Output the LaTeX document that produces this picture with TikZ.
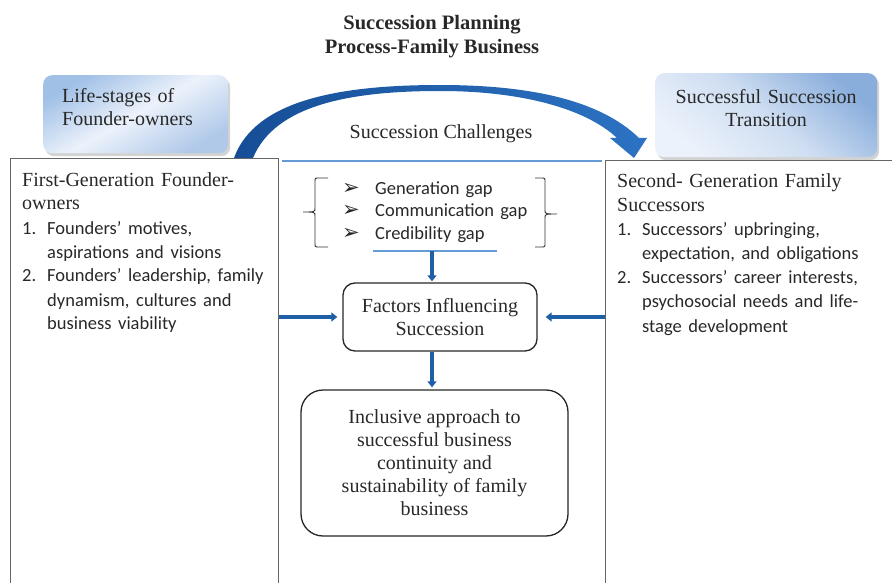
\documentclass[tikz,border=0pt]{standalone}
\usepackage{fontspec}
\setmainfont{Liberation Serif}
\newfontfamily\calibri{Carlito}
\newfontfamily\dings{DejaVu Sans}
\usetikzlibrary{arrows.meta,shadows,positioning}

\definecolor{arcdark}{RGB}{22,78,150}
\definecolor{arclight}{RGB}{45,115,195}
\definecolor{flowblue}{RGB}{30,95,165}
\definecolor{thinblue}{RGB}{100,155,215}
\definecolor{stagetop}{RGB}{160,192,230}
\definecolor{stagemid}{RGB}{236,242,251}
\definecolor{stagebot}{RGB}{176,201,233}
\definecolor{stagedeep}{RGB}{138,174,220}
\definecolor{textgray}{RGB}{40,40,40}

\newcommand{\itemno}[1]{\makebox[25pt][l]{#1}}
\newcommand{\bulletarrow}{\makebox[33pt][l]{\dings\fontsize{21}{22}\selectfont ➢}}

\tikzset{
  stagebox/.style={rounded corners=9pt, top color=stagetop, bottom color=stagebot,
    middle color=stagemid, shading angle=30,
    drop shadow={shadow xshift=2pt, shadow yshift=-3pt, opacity=0.35},
    text=textgray, font=\fontsize{20}{23}\selectfont},
  frame/.style={draw=black!60, line width=1pt, inner sep=0pt},
  listtext/.style={text width=#1, align=left, inner sep=0pt, text=textgray},
  flowbox/.style={draw=black!85, line width=1.3pt, rounded corners=12pt, align=center,
    text=textgray, font=\fontsize{20}{23}\selectfont},
  flow/.style={draw=flowblue, line width=3.3pt, -{Triangle[width=9pt,length=6pt]}},
  thinline/.style={draw=thinblue, line width=1.3pt},
  bracket/.style={draw=black!80, line width=0.9pt},
}

\begin{document}
\begin{tikzpicture}[x=1pt,y=-1pt]
  \useasboundingbox (0,0) rectangle (892,583);
  \clip (0,0) rectangle (892,583);

  \node[align=center, text=textgray, font=\bfseries\fontsize{20.5}{24}\selectfont] (title) at (432,36.5)
    {Succession Planning\\Process-Family Business};

  % the two stage boxes on top
  \node[stagebox, anchor=north west, minimum width=185pt, minimum height=78pt,
    text width=147pt, inner xsep=19pt, align=left] (lifestages) at (43,75)
    {Life-stages of\\Founder-owners\rule[-15pt]{0pt}{15pt}};
  \node[stagebox, top color=stagedeep, bottom color=stagemid, middle color=stagemid!70!stagedeep,
    shading angle=-40, anchor=north west, minimum width=222pt, minimum height=84pt,
    text width=190pt, inner xsep=16pt, align=center] (transition) at (655,73)
    {Successful Succession\\Transition\rule[-14pt]{0pt}{14pt}};

  % big curved arrow
  \shade[left color=arcdark, right color=arclight]
    (234,158) .. controls (255,100) and (340,85) .. (440,85)
    .. controls (530,85) and (600,100) .. (639,138)
    -- (647,138) -- (634,158) -- (610,138) -- (617,138)
    .. controls (585,108) and (520,91) .. (440,91)
    .. controls (350,91) and (275,105) .. (253,158) -- cycle;
  \node[text=textgray, font=\fontsize{20}{23}\selectfont] (challenges) at (441,133.5) {Succession Challenges};

  % founders and successors columns
  \node[frame, anchor=north west, minimum width=268pt, minimum height=450pt] (founders) at (10,158) {};
  \node[frame, anchor=north west, minimum width=300pt, minimum height=450pt] (successors) at (605,160) {};
  \draw[thinline] (282,161) -- (602,161);

  \node[listtext=255pt, anchor=base west, font=\fontsize{20}{24}\selectfont] (foundertext) at (22,186)
    {First-Generation Founder-\\owners\\
     \calibri\fontsize{18.5}{24}\selectfont
     \itemno{1.}Founders’ motives,\\
     \itemno{}aspirations and visions\\
     \itemno{2.}Founders’ leadership, family\\
     \itemno{}dynamism, cultures and\\
     \itemno{}business viability};
  \node[listtext=272pt, anchor=base west, font=\fontsize{20}{24.2}\selectfont] (successortext) at (617,187)
    {Second- Generation Family\\Successors\\
     \calibri\fontsize{18.5}{24.2}\selectfont
     \itemno{1.}Successors’ upbringing,\\
     \itemno{}expectation, and obligations\\
     \itemno{2.}Successors’ career interests,\\
     \itemno{}psychosocial needs and life-\\
     \itemno{}stage development};

  % the three gaps between braces
  \node[listtext=190pt, anchor=base west, font=\calibri\fontsize{18.5}{22.3}\selectfont] (gaps) at (342,194.5)
    {\bulletarrow Generation gap\\
     \bulletarrow Communication gap\\
     \bulletarrow Credibility gap};
  \draw[bracket] (328,178) -- (319,178) .. controls (315,178) .. (315,182) -- (315,208)
    .. controls (315,212) .. (303,212) .. controls (315,212) .. (315,216) -- (315,243)
    .. controls (315,247) .. (319,247) -- (328,247);
  \draw[bracket] (535,178) -- (541,178) .. controls (545,178) .. (545,182) -- (545,210)
    .. controls (545,214) .. (557,214) .. controls (545,214) .. (545,218) -- (545,243)
    .. controls (545,247) .. (541,247) -- (535,247);
  \draw[thinline] (373,251) -- (497,251);
  \coordinate (gapline) at (432,251);

  \node[flowbox, minimum width=194pt, minimum height=68pt] (factors) at (440,317)
    {Factors Influencing\\Succession};
  \node[flowbox, rounded corners=22pt, minimum width=267pt, minimum height=146pt] (inclusive) at (434.5,463)
    {Inclusive approach to\\successful business\\continuity and\\sustainability of family\\business};

  \draw[flow, shorten >=1pt] (gapline) -- (gapline |- factors.north);
  \draw[flow, shorten >=2pt] (factors.south -| gapline) -- (inclusive.north -| gapline);
  \draw[flow, shorten >=5pt] (founders.east |- factors.west) -- (factors.west);
  \draw[flow, shorten >=8pt] (successors.west |- factors.east) -- (factors.east);
\end{tikzpicture}
\end{document}
